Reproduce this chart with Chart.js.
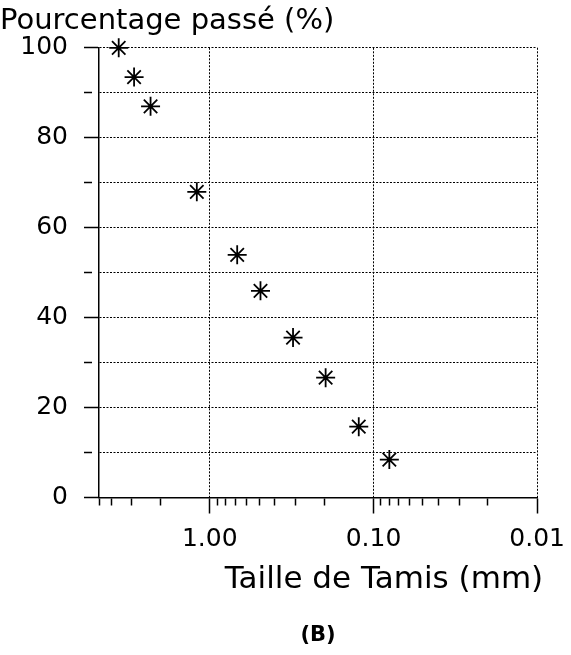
<!DOCTYPE html>
<html>
<head>
<meta charset="utf-8">
<script src="https://cdn.jsdelivr.net/npm/chart.js@4.4.1/dist/chart.umd.min.js"></script>
<style>
  html, body { margin: 0; padding: 0; background: #fff; }
</style>
</head>
<body>
<canvas id="sieve-chart" width="571" height="655"></canvas>
<script>
// sieve opening (mm) and percent passing
const sieveSizes = [3.6, 2.9, 2.3, 1.2, 0.68, 0.49, 0.31, 0.196, 0.123, 0.08];
const percentPassing = [100, 93.5, 87, 68, 54, 46, 35.6, 26.7, 15.8, 8.5];

// x axis (log, reversed): labelled decades + small tick marks
const xMin = 0.01;
const xMax = 4.75;
const xMajorTicks = [1, 0.1, 0.01];
const xMinorTicks = [4.75, 4, 3, 2, 0.9, 0.8, 0.7, 0.6, 0.5, 0.4, 0.3, 0.2,
  0.09, 0.08, 0.07, 0.06, 0.05, 0.04, 0.03, 0.02];
const xTitle = 'Taille de Tamis (mm)';

// y axis: tick every 10, label every 20
const yTicks = [0, 10, 20, 30, 40, 50, 60, 70, 80, 90, 100];
const yLabels = [0, 20, 40, 60, 80, 100];

Chart.defaults.font.family = "'DejaVu Sans', sans-serif";
Chart.defaults.color = '#000';

const isXMajor = v => xMajorTicks.some(m => Math.abs(m - v) < 1e-9);
const isYMajor = v => yLabels.includes(v);

// the built-in axis title mis-aligns on a reversed axis, so draw it right-aligned here
const xTitlePlugin = {
  id: 'xTitle',
  afterDraw(chart) {
    const c = chart.ctx;
    const area = chart.chartArea;
    c.save();
    c.font = "31px 'DejaVu Sans', sans-serif";
    c.fillStyle = '#000';
    c.textAlign = 'right';
    c.textBaseline = 'alphabetic';
    c.fillText(xTitle, area.right + 6, area.bottom + 90);
    c.restore();
  }
};

const ctx = document.getElementById('sieve-chart').getContext('2d');

new Chart(ctx, {
  type: 'scatter',
  data: {
    datasets: [{
      data: sieveSizes.map((s, i) => ({ x: s, y: percentPassing[i] })),
      pointStyle: 'star',
      pointRadius: 9.5,
      pointBorderWidth: 1.8,
      borderColor: '#000',
      backgroundColor: '#000',
      clip: false
    }]
  },
  plugins: [xTitlePlugin],
  options: {
    responsive: false,
    animation: false,
    layout: { padding: 0 },
    plugins: {
      legend: { display: false },
      tooltip: { enabled: false },
      subtitle: {
        display: true,
        text: 'Pourcentage passé (%)',
        align: 'start',
        color: '#000',
        font: { size: 29 },
        padding: { top: 4, bottom: 9 }
      },
      title: {
        display: true,
        text: '(B)',
        position: 'bottom',
        fullSize: false,
        color: '#000',
        font: { size: 21, weight: 'bold' },
        padding: { top: 0, bottom: 7 }
      }
    },
    scales: {
      x: {
        type: 'logarithmic',
        reverse: true,
        min: xMin,
        max: xMax,
        afterBuildTicks: scale => {
          scale.ticks = xMinorTicks.concat(xMajorTicks)
            .sort((a, b) => b - a)
            .map(v => ({ value: v, major: isXMajor(v) }));
        },
        afterFit: scale => { scale.height = 125; },
        ticks: {
          autoSkip: false,
          maxRotation: 0,
          padding: 6,
          font: { size: 25 },
          callback: value => isXMajor(value) ? value.toFixed(2) : ''
        },
        grid: {
          tickLength: 21,
          lineWidth: 1,
          color: c => c.tick && isXMajor(c.tick.value) ? '#000' : 'rgba(0,0,0,0)',
          tickColor: '#000',
          tickWidth: 1.5,
          tickBorderDash: c => c.tick && isXMajor(c.tick.value) ? [15, 50] : [7, 50]
        },
        border: { color: '#000', width: 1.5, dash: [2, 1.5] }
      },
      y: {
        min: 0,
        max: 100,
        afterBuildTicks: scale => {
          scale.ticks = yTicks.map(v => ({ value: v }));
        },
        afterFit: scale => { scale.width = 99; },
        ticks: {
          autoSkip: false,
          padding: 16,
          font: { size: 25 },
          callback: value => isYMajor(value) ? value : ''
        },
        grid: {
          tickLength: 15,
          lineWidth: 1,
          color: '#000',
          tickColor: '#000',
          tickWidth: 1.5,
          tickBorderDash: c => c.tick && isYMajor(c.tick.value) ? [] : [8, 50]
        },
        border: { color: '#000', width: 1.5, dash: [2, 1.5] }
      }
    }
  }
});
</script>
</body>
</html>
